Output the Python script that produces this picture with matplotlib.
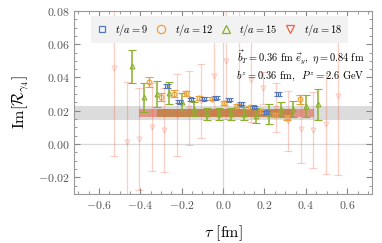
import matplotlib
matplotlib.use("Agg")
import matplotlib.pyplot as plt
import matplotlib.patches as patches
from matplotlib.ticker import MultipleLocator, FuncFormatter

plt.rcParams['mathtext.fontset'] = 'cm'
plt.rcParams['font.family'] = 'serif'
plt.rcParams['font.serif'] = ['DejaVu Serif']

# --- data ---
tau_9 = [-0.273, -0.213, -0.153, -0.093, -0.033, 0.027, 0.087, 0.147, 0.207, 0.267]
val_9 = [0.0348, 0.0253, 0.0269, 0.0273, 0.0277, 0.0267, 0.0243, 0.0221, 0.0190, 0.0302]
err_9 = [0.0012, 0.0009, 0.0009, 0.0009, 0.0009, 0.0009, 0.0009, 0.0009, 0.0010, 0.0011]

tau_12 = [-0.360, -0.299, -0.238, -0.177, -0.116, -0.055, 0.006, 0.067, 0.128, 0.189, 0.250, 0.311, 0.372]
val_12 = [0.0372, 0.0282, 0.0303, 0.0306, 0.0277, 0.0273, 0.0247, 0.0231, 0.0221, 0.0199, 0.0177, 0.0159, 0.0269]
err_12 = [0.0028, 0.0025, 0.0020, 0.0015, 0.0011, 0.0010, 0.0012, 0.0010, 0.0010, 0.0011, 0.0012, 0.0013, 0.0028]

tau_15 = [-0.44, -0.38, -0.32, -0.26, -0.20, -0.14, -0.08, -0.02, 0.04, 0.10, 0.16, 0.22, 0.28, 0.34, 0.40, 0.46]
val_15 = [0.0466, 0.0280, 0.0300, 0.0305, 0.0253, 0.0211, 0.0178, 0.0180, 0.0180, 0.0183, 0.0170, 0.0181, 0.0208, 0.0210, 0.0226, 0.0238]
err_15 = [0.0098, 0.0085, 0.0080, 0.0065, 0.0052, 0.0040, 0.0036, 0.0036, 0.0035, 0.0040, 0.0045, 0.0062, 0.0045, 0.0050, 0.0066, 0.0095]

tau_18 = [-0.525, -0.465, -0.405, -0.345, -0.285, -0.225, -0.165, -0.105, -0.045, 0.015,
          0.075, 0.135, 0.195, 0.255, 0.315, 0.375, 0.435, 0.495, 0.555]
val_18 = [0.0456, 0.0010, 0.0030, 0.0103, 0.0086, 0.0174, 0.0217, 0.0260, 0.0406, 0.0500,
          0.0645, 0.0382, 0.0336, 0.0218, 0.0138, 0.0090, 0.0084, 0.0118, 0.0287]
err_18 = [0.0526, 0.0360, 0.0305, 0.0263, 0.0253, 0.0246, 0.0223, 0.0222, 0.0225, 0.0350,
          0.0450, 0.0250, 0.0095, 0.0148, 0.0178, 0.0205, 0.0229, 0.0298, 0.0474]

# fit results
band_total = (0.0143, 0.0227)
fit_12 = (-0.321, 0.345, 0.0163, 0.0209)
fit_18 = (-0.405, 0.441, 0.0163, 0.0209)

c9, c12, c15, c18 = '#5577bb', '#e9a23b', '#8cb02c', '#f2603f'

fig = plt.figure(figsize=(3.82, 2.43), dpi=100)
ax = fig.add_axes([0.194, 0.202, 0.780, 0.753])

ax.axhline(0, color='#d8d8d8', lw=0.9, zorder=0)
ax.axvline(0, color='#d8d8d8', lw=0.9, zorder=0)
ax.axhspan(*band_total, color='#dcdcdc', lw=0, zorder=1)

ax.add_patch(patches.Rectangle((fit_18[0], fit_18[2]), fit_18[1] - fit_18[0], fit_18[3] - fit_18[2],
                               facecolor='#e0958a', lw=0, zorder=1.5))
ax.add_patch(patches.Rectangle((fit_12[0], fit_12[2]), fit_12[1] - fit_12[0], fit_12[3] - fit_12[2],
                               facecolor='#c48650', lw=0, zorder=1.6))

eb = dict(ls='none', capsize=2.8, mfc='none', ms=3.5)
ax.errorbar(tau_18, val_18, yerr=err_18, fmt='v', color=c18, alpha=0.3, elinewidth=0.9,
            capthick=0.9, mew=0.8, zorder=2, **eb)
ax.errorbar(tau_15, val_15, yerr=err_15, fmt='^', color=c15, elinewidth=1.1,
            capthick=1.1, mew=0.8, zorder=3, **eb)
ax.errorbar(tau_12, val_12, yerr=err_12, fmt='o', color=c12, elinewidth=1.0,
            capthick=1.0, mew=0.8, zorder=4, **eb)
ax.errorbar(tau_9, val_9, yerr=err_9, fmt='s', color=c9, elinewidth=1.0,
            capthick=1.0, mew=0.8, zorder=5, **eb)

ax.set_xlim(-0.72, 0.72)
ax.set_ylim(-0.03, 0.08)
ax.xaxis.set_major_locator(MultipleLocator(0.2))
ax.xaxis.set_minor_locator(MultipleLocator(0.05))
ax.yaxis.set_major_locator(MultipleLocator(0.02))
ax.yaxis.set_minor_locator(MultipleLocator(0.005))
ax.xaxis.set_major_formatter(FuncFormatter(lambda v, p: f'${v:.1f}$'))
ax.yaxis.set_major_formatter(FuncFormatter(lambda v, p: f'${v:.2f}$'))
ax.tick_params(which='both', direction='in', top=True, right=True, colors='#888888',
               labelcolor='#555555', labelsize=8.5)
ax.tick_params(which='major', length=4, width=0.8)
ax.tick_params(which='minor', length=2, width=0.6)
for s in ax.spines.values():
    s.set_color('#999999')
    s.set_linewidth(0.8)

ax.set_xlabel(r'$\tau\ [\mathrm{fm}]$', fontsize=11.5, labelpad=8)
ax.set_ylabel(r'$\mathrm{Im}[\mathcal{R}_{\gamma_4}]$', fontsize=11.5, labelpad=5)

ax.text(0.975, 0.745, r'$\vec{b}_T=0.36\ \mathrm{fm}\ \vec{e}_y,\ \eta=0.84\ \mathrm{fm}$',
        transform=ax.transAxes, ha='right', va='center', fontsize=7.5)
ax.text(0.975, 0.645, r'$b^z=0.36\ \mathrm{fm},\ \ P^z=2.6\ \mathrm{GeV}$',
        transform=ax.transAxes, ha='right', va='center', fontsize=7.5)

handles = [
    plt.Line2D([], [], ls='none', marker='s', mfc='none', mec=c9, ms=4.5, mew=0.9),
    plt.Line2D([], [], ls='none', marker='o', mfc='none', mec=c12, ms=6, mew=0.9),
    plt.Line2D([], [], ls='none', marker='^', mfc='none', mec=c15, ms=6, mew=0.9),
    plt.Line2D([], [], ls='none', marker='v', mfc='none', mec=c18, ms=6, mew=0.9),
]
labels = [r'$t/a=9$', r'$t/a=12$', r'$t/a=15$', r'$t/a=18$']
leg = ax.legend(handles, labels, ncol=4, loc='upper left', bbox_to_anchor=(0.045, 0.99),
                fontsize=7.5, frameon=True, fancybox=False, borderpad=0.55,
                handletextpad=0.8, columnspacing=0.75, handlelength=1.0, borderaxespad=0.3)
leg.get_frame().set_facecolor('#f2f2f2')
leg.get_frame().set_edgecolor('none')
leg.get_frame().set_alpha(1)

fig.savefig('out.png', dpi=100)
